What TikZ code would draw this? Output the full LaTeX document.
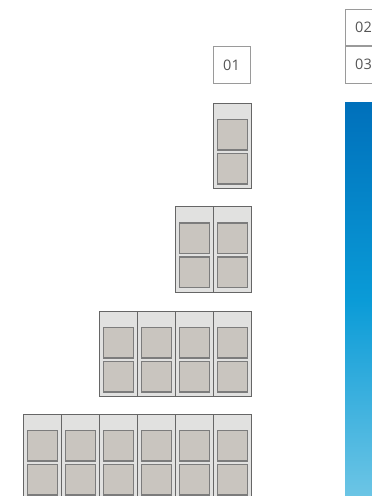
\documentclass[tikz,border=0pt]{standalone}
\usepackage{fontspec}
\setmainfont{Open Sans}
\definecolor{colfill}{HTML}{E1E1E0}
\definecolor{colline}{HTML}{666666}
\definecolor{sqfill}{HTML}{C9C5BF}
\definecolor{sqline}{HTML}{7C7C7C}
\definecolor{txtgray}{HTML}{555555}
\definecolor{lblline}{HTML}{9A9A9A}
\definecolor{gtop}{HTML}{0070BB}
\definecolor{gmid}{HTML}{0A9BD7}
\definecolor{gbot}{HTML}{6CC5E5}
\tikzset{
  colbox/.style={draw=colline, fill=colfill, line width=1pt},
  sqbox/.style={draw=sqline, fill=sqfill, line width=1.3pt},
  lblbox/.style={draw=lblline, line width=0.6pt, fill=white, minimum width=37pt, minimum height=36.5pt, inner sep=0pt, text=txtgray, font=\fontsize{14.5}{16}\selectfont},
}
\begin{document}
\begin{tikzpicture}[x=1pt,y=-1pt]
\useasboundingbox (0,0) rectangle (372,496);
\clip (0,0) rectangle (372,496);
% labels
\node[lblbox] (l01) at (231.5,65) {01};
\node[lblbox] (l02) at (363.5,27.25) {02};
\node[lblbox] (l03) at (363.5,64.75) {03};
% gradient bar
\shade[top color=gtop, bottom color=gmid] (345,102) rectangle (380,300);
\shade[top color=gmid, bottom color=gbot] (345,299.5) rectangle (380,496);
% columns
\foreach \row/\n/\ytop in {1/1/103, 2/2/206.5, 3/4/311, 4/6/414} {
  \foreach \i in {1,...,\n} {
    \pgfmathsetmacro{\xl}{251-38*\i}
    \draw[colbox] (\xl,\ytop) rectangle ++(38,85.5);
    \draw[sqbox] (\xl+4.5,\ytop+16.5) rectangle ++(30,30.5);
    \draw[sqbox] (\xl+4.5,\ytop+50.5) rectangle ++(30,30.5);
  }
}
\end{tikzpicture}
\end{document}
